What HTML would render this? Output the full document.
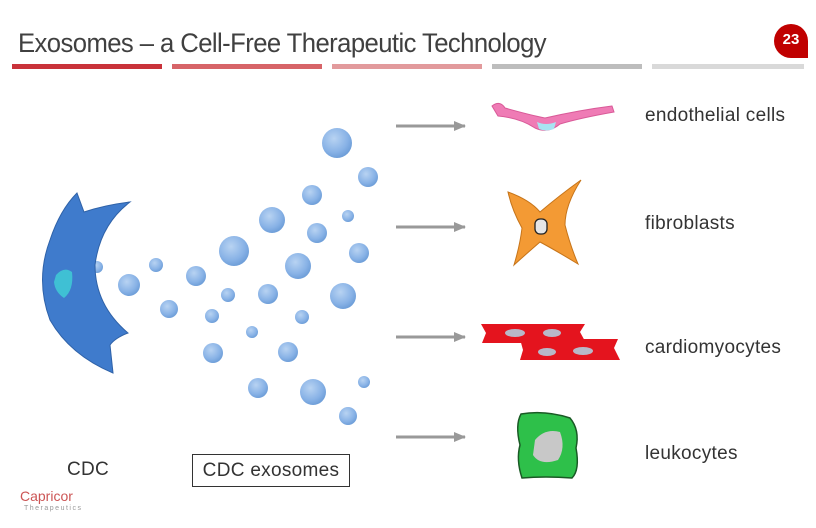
<!DOCTYPE html>
<html><head><meta charset="utf-8"><style>
body{margin:0;width:816px;height:528px;background:#fff;overflow:hidden;position:relative;font-family:"Liberation Sans",sans-serif}
.t{position:absolute;color:#333;font-size:19px;letter-spacing:0.3px}
</style></head><body>
<div style="position:absolute;left:18px;top:28px;font-size:27px;color:#404040;letter-spacing:-0.6px;font-weight:300;transform:scaleX(0.95);transform-origin:left">Exosomes – a Cell-Free Therapeutic Technology</div>
<div style="position:absolute;top:64px;left:12px;width:150px;height:5px;background:#c9323a"></div>
<div style="position:absolute;top:64px;left:172px;width:150px;height:5px;background:#d76468"></div>
<div style="position:absolute;top:64px;left:332px;width:150px;height:5px;background:#e29a9c"></div>
<div style="position:absolute;top:64px;left:492px;width:150px;height:5px;background:#bdbdbd"></div>
<div style="position:absolute;top:64px;left:652px;width:152px;height:5px;background:#d9d9d9"></div>
<div style="position:absolute;left:774px;top:24px;width:34px;height:34px;background:#c00000;border-radius:50% 50% 0 50%;color:#fff;font-weight:bold;font-size:15px;text-align:center;line-height:32px">23</div>
<svg width="816" height="528" style="position:absolute;left:0;top:0">
<defs>
<radialGradient id="b" cx="40%" cy="35%" r="65%"><stop offset="0" stop-color="#b8d3f2"/><stop offset="0.7" stop-color="#88b2e6"/><stop offset="1" stop-color="#6f9fd9"/></radialGradient>
<marker id="a" markerUnits="userSpaceOnUse" markerWidth="12" markerHeight="12" refX="11" refY="6" orient="auto"><path d="M0,1L12,6L0,11z" fill="#999"/></marker>
</defs>
<g fill="url(#b)">
<circle cx="97" cy="267" r="6"/>
<circle cx="337" cy="143" r="15"/><circle cx="368" cy="177" r="10"/><circle cx="312" cy="195" r="10"/><circle cx="272" cy="220" r="13"/><circle cx="348" cy="216" r="6"/><circle cx="317" cy="233" r="10"/><circle cx="234" cy="251" r="15"/><circle cx="298" cy="266" r="13"/><circle cx="359" cy="253" r="10"/><circle cx="156" cy="265" r="7"/><circle cx="196" cy="276" r="10"/><circle cx="129" cy="285" r="11"/><circle cx="343" cy="296" r="13"/><circle cx="228" cy="295" r="7"/><circle cx="268" cy="294" r="10"/><circle cx="169" cy="309" r="9"/><circle cx="212" cy="316" r="7"/><circle cx="302" cy="317" r="7"/><circle cx="252" cy="332" r="6"/><circle cx="213" cy="353" r="10"/><circle cx="288" cy="352" r="10"/><circle cx="364" cy="382" r="6"/><circle cx="258" cy="388" r="10"/><circle cx="313" cy="392" r="13"/><circle cx="348" cy="416" r="9"/>
</g>
<path d="M77,193 L84,212 Q105,205 130,202 Q100,225 95,265 Q95,305 128,333 Q115,338 110,345 L113,373 Q70,355 50,320 Q35,280 50,240 Q60,210 77,193Z" fill="#3f7bcc" stroke="#2f62a8" stroke-width="1"/>
<path d="M56,275 Q64,266 72,272 Q74,290 64,298 Q55,292 54,282Z" fill="#3fc0d4"/>
<g stroke="#999" stroke-width="3" marker-end="url(#a)"><line x1="396" y1="126" x2="465" y2="126"/><line x1="396" y1="227" x2="465" y2="227"/><line x1="396" y1="337" x2="465" y2="337"/><line x1="396" y1="437" x2="465" y2="437"/></g>
<path d="M492,106 Q500,100 505,108 Q530,115 545,118 Q580,110 612,106 L614,112 Q580,118 560,124 Q548,134 535,128 Q520,118 498,116Z" fill="#ef7bb5" stroke="#d95a98"/>
<path d="M537,122 Q546,126 556,122 L554,129 Q546,132 539,129Z" fill="#a8e4f2"/>
<path d="M508,192 Q530,200 540,212 Q560,195 581,180 Q565,205 565,225 Q570,245 578,264 Q555,250 540,242 Q525,255 514,265 Q520,245 522,228 Q512,210 508,192Z" fill="#f39a34" stroke="#c67419"/>
<rect x="535" y="219" width="12" height="15" rx="5" fill="#e6e6e6" stroke="#222" stroke-width="1.3"/>
<path d="M481,324 L585,324 L580,332 L586,343 L482,343 L486,333Z" fill="#e4141e"/>
<path d="M520,339 L618,339 L614,348 L620,360 L520,360 L523,350Z" fill="#e4141e"/>
<g fill="#b8b8c8"><ellipse cx="515" cy="333" rx="10" ry="4"/><ellipse cx="552" cy="333" rx="9" ry="4"/><ellipse cx="547" cy="352" rx="9" ry="4"/><ellipse cx="583" cy="351" rx="10" ry="4"/></g>
<path d="M521,414 Q545,410 570,418 Q580,430 576,448 Q580,470 572,478 Q545,476 522,478 Q516,460 520,445 Q515,425 521,414Z" fill="#2ec04a" stroke="#1a5a25" stroke-width="1.5"/>
<path d="M535,440 Q545,428 560,432 Q566,448 558,460 Q540,466 533,455Z" fill="#c8c8c8"/>
</svg>
<div class="t" style="left:645px;top:105px">endothelial cells</div>
<div class="t" style="left:645px;top:213px">fibroblasts</div>
<div class="t" style="left:645px;top:337px">cardiomyocytes</div>
<div class="t" style="left:645px;top:443px">leukocytes</div>
<div class="t" style="left:67px;top:459px">CDC</div>
<div style="position:absolute;left:192px;top:454px;width:158px;height:33px;border:1px solid #333;box-sizing:border-box;font-size:19px;letter-spacing:0.3px;color:#333;text-align:center;line-height:31px">CDC exosomes</div>
<div style="position:absolute;left:20px;top:488px;color:#c55;font-size:14px">Capricor</div>
<div style="position:absolute;left:24px;top:505px;color:#999;font-size:7px;letter-spacing:1.5px">Therapeutics</div>
</body></html>
